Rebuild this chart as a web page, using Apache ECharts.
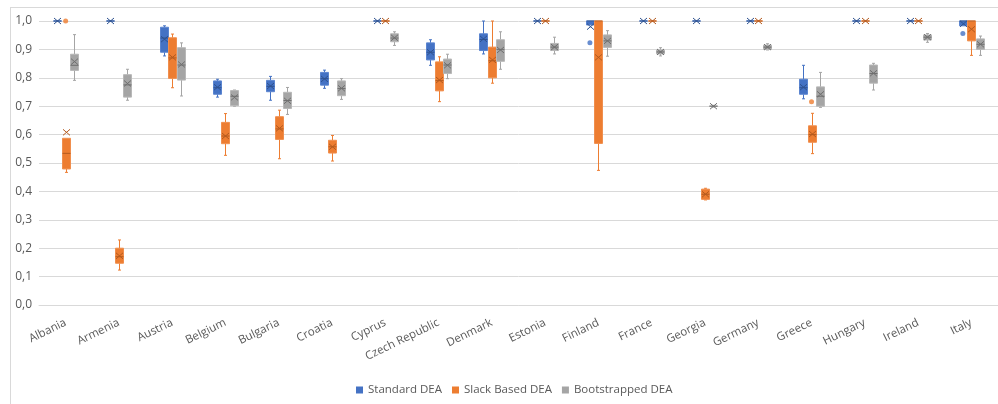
<!DOCTYPE html>
<html><head><meta charset="utf-8">
<script src="https://cdn.jsdelivr.net/npm/echarts@6/dist/echarts.min.js"></script>
<style>html,body{margin:0;padding:0;background:#fff}#c{width:998px;height:404px}</style>
</head><body><div id="c"></div>
<script>
const countries = ['Albania','Armenia','Austria','Belgium','Bulgaria','Croatia','Cyprus','Czech Republic','Denmark','Estonia','Finland','France','Georgia','Germany','Greece','Hungary','Ireland','Italy'];
const seriesNames = ['Standard DEA','Slack Based DEA','Bootstrapped DEA'];
const yTicks = [0,0.1,0.2,0.3,0.4,0.5,0.6,0.7,0.8,0.9,1.0];

// [min, Q1, median, Q3, max]
const standardBox = [
  [1,1,1,1,1],[1,1,1,1,1],[0.877,0.89,0.94,0.978,0.983],[0.732,0.742,0.765,0.789,0.795],
  [0.721,0.751,0.77,0.791,0.805],[0.763,0.774,0.797,0.819,0.827],[1,1,1,1,1],
  [0.844,0.863,0.89,0.923,0.934],[0.884,0.896,0.935,0.955,1.0],[1,1,1,1,1],
  [0.986,0.986,1,1,1],[1,1,1,1,1],[1,1,1,1,1],[1,1,1,1,1],
  [0.726,0.742,0.765,0.795,0.844],[1,1,1,1,1],[1,1,1,1,1],[0.983,0.983,1,1,1]
];
const standardMean = [1,1,0.936,0.767,0.771,0.796,1,0.89,0.937,1,0.98,1,1,1,0.767,1,1,0.99];
const standardOutliers = [[10,0.923],[17,0.956]];

const slackBox = [
  [0.467,0.479,0.534,0.587,0.587],[0.123,0.147,0.17,0.2,0.229],[0.765,0.798,0.87,0.941,0.954],
  [0.527,0.568,0.595,0.643,0.674],[0.515,0.583,0.62,0.663,0.686],[0.507,0.535,0.557,0.58,0.597],
  [1,1,1,1,1],[0.716,0.754,0.79,0.856,0.874],[0.781,0.8,0.86,0.908,1.0],[1,1,1,1,1],
  [0.474,0.569,1,1,1],[1,1,1,1,1],[0.37,0.372,0.39,0.408,0.411],[1,1,1,1,1],
  [0.533,0.573,0.6,0.631,0.675],[1,1,1,1,1],[1,1,1,1,1],[0.879,0.93,1,1,1]
];
const slackMean = [0.608,0.173,0.872,0.595,0.622,0.557,1,0.792,0.863,1,0.872,1,0.39,1,0.602,1,1,0.971];
const slackOutliers = [[0,1.0],[14,0.716]];

const bootBox = [
  [0.791,0.826,0.844,0.883,0.952],[0.721,0.732,0.775,0.811,0.83],[0.736,0.792,0.845,0.906,0.923],
  [0.70,0.702,0.735,0.755,0.757],[0.671,0.692,0.72,0.749,0.766],[0.724,0.737,0.762,0.789,0.797],
  [0.914,0.927,0.94,0.955,0.962],[0.797,0.815,0.845,0.866,0.883],[0.83,0.858,0.9,0.934,0.962],
  [0.884,0.896,0.908,0.921,0.943],[0.876,0.907,0.93,0.951,0.966],[0.877,0.884,0.891,0.898,0.906],
  [0.697,0.699,0.70,0.701,0.703],[0.898,0.90,0.908,0.915,0.92],[0.696,0.70,0.735,0.768,0.819],
  [0.757,0.781,0.815,0.845,0.851],[0.925,0.933,0.943,0.951,0.956],[0.879,0.90,0.918,0.937,0.947]
];
const bootMean = [0.857,0.78,0.847,0.731,0.719,0.763,0.941,0.844,0.898,0.908,0.93,0.891,0.70,0.908,0.742,0.816,0.943,0.918];
const bootOutliers = [];

const FONT = "'Open Sans', 'Liberation Sans', sans-serif";
const TXT = '#595959';
const GRIDC = '#D9D9D9';

const styles = [
  {fill:'#4472C4', stroke:'#5B85D0', dark:'#2F528F', offset:-8.5},
  {fill:'#ED7D31', stroke:'#F08F4E', dark:'#B45A1E', offset:0},
  {fill:'#A5A5A5', stroke:'#B8B8B8', dark:'#6F6F6F', offset:8.5}
];

function ln(x1,y1,x2,y2,color,w){
  return {type:'line', shape:{x1,y1,x2,y2}, style:{stroke:color, lineWidth:w||1}};
}
function makeRender(st){
  return function(params, api){
    const i = api.value(0);
    const pMin = api.coord([i, api.value(1)]);
    const pQ1 = api.coord([i, api.value(2)]);
    const pMed = api.coord([i, api.value(3)]);
    const pQ3 = api.coord([i, api.value(4)]);
    const pMax = api.coord([i, api.value(5)]);
    const pMean = api.coord([i, api.value(6)]);
    const cx = Math.round(pMin[0] + st.offset) + 0.5;
    const hw = 4, cap = 1.5, xs = 3.5, ys = 3;
    const ch = [];
    if (pQ3[1] - pMax[1] > 0.5) {
      ch.push(ln(cx, pMax[1], cx, pQ3[1], st.fill, 1));
      ch.push(ln(cx-cap, pMax[1], cx+cap, pMax[1], st.fill, 1));
    }
    if (pMin[1] - pQ1[1] > 0.5) {
      ch.push(ln(cx, pQ1[1], cx, pMin[1], st.fill, 1));
      ch.push(ln(cx-cap, pMin[1], cx+cap, pMin[1], st.fill, 1));
    }
    ch.push({type:'rect', shape:{x:cx-hw, y:pQ3[1], width:hw*2, height:Math.max(pQ1[1]-pQ3[1],0)},
      style:{fill:st.fill, stroke:st.stroke, lineWidth:1}});
    ch.push(ln(cx-hw, pMed[1], cx+hw, pMed[1], st.dark, 1));
    ch.push(ln(cx-xs, pMean[1]-ys, cx+xs, pMean[1]+ys, st.dark, 1));
    ch.push(ln(cx-xs, pMean[1]+ys, cx+xs, pMean[1]-ys, st.dark, 1));
    return {type:'group', children:ch};
  };
}

function boxData(box, mean){
  return box.map((b, i) => [i, b[0], b[1], b[2], b[3], b[4], mean[i]]);
}

const boxes = [standardBox, slackBox, bootBox];
const means = [standardMean, slackMean, bootMean];
const outs = [standardOutliers, slackOutliers, bootOutliers];

const series = [];
seriesNames.forEach((name, k) => {
  series.push({
    name, type:'custom',
    renderItem: makeRender(styles[k]),
    itemStyle:{color: styles[k].fill},
    encode:{x:0, y:[1,2,3,4,5,6]},
    data: boxData(boxes[k], means[k]),
    z: 3
  });
});
seriesNames.forEach((name, k) => {
  series.push({
    name: name + ' outliers', type:'scatter',
    symbol:'circle', symbolSize:5,
    symbolOffset:[styles[k].offset, 0],
    itemStyle:{color: styles[k].fill},
    data: outs[k],
    z: 4
  });
});

const chart = echarts.init(document.getElementById('c'), null, {renderer:'canvas'});
chart.setOption({
  animation:false,
  textStyle:{fontFamily:FONT},
  graphic:[
    {type:'line', shape:{x1:10.5, y1:7, x2:10.5, y2:404}, style:{stroke:GRIDC, lineWidth:1}, silent:true},
    {type:'line', shape:{x1:10, y1:7.5, x2:998, y2:7.5}, style:{stroke:GRIDC, lineWidth:1}, silent:true}
  ],
  grid:{left:39, top:21, width:961, height:284, containLabel:false},
  legend:{
    data: seriesNames, left:351, top:379, icon:'rect', itemWidth:7, itemHeight:7, itemGap:10,
    textStyle:{color:TXT, fontSize:11.5, fontFamily:FONT}
  },
  xAxis:{
    type:'category', data:countries, boundaryGap:true,
    axisTick:{show:false},
    axisLine:{lineStyle:{color:GRIDC, width:1}},
    axisLabel:{rotate:26, interval:0, margin:17, color:TXT, fontSize:11.5, fontFamily:FONT},
    splitLine:{show:false}
  },
  yAxis:{
    type:'value', min:0, max:1, interval:0.1,
    axisLine:{show:false}, axisTick:{show:false},
    axisLabel:{margin:7, color:TXT, fontSize:12, fontFamily:FONT,
      formatter: v => { const t = yTicks.find(x => Math.abs(x - v) < 1e-9); return (t !== undefined ? t : v).toFixed(1).replace('.', ','); }},
    splitLine:{lineStyle:{color:GRIDC, width:1}}
  },
  series
});
</script>
</body></html>
